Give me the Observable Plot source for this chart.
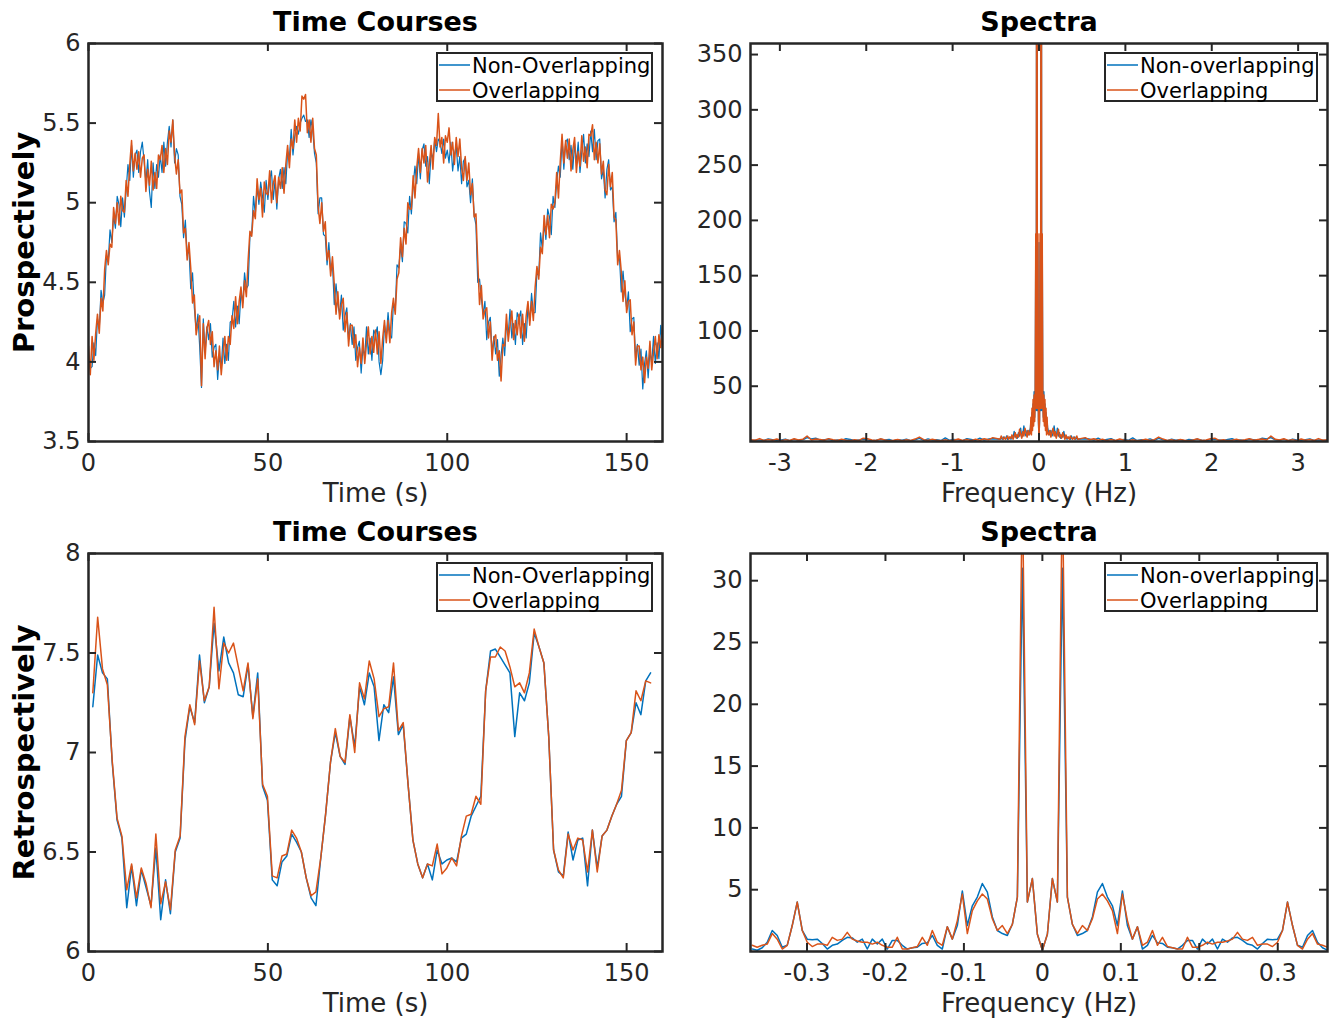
<!DOCTYPE html>
<html>
<head>
<meta charset="utf-8">
<script src="https://cdn.jsdelivr.net/npm/d3@7"></script>
<script src="https://cdn.jsdelivr.net/npm/@observablehq/plot@0.6"></script>
<style>
  html, body { margin: 0; padding: 0; background: #fff; }
  #root { position: relative; width: 1335px; height: 1021px; overflow: hidden; background: #fff; }
  .pn { position: absolute; }
</style>
</head>
<body>
<div id="root"></div>
<script>
// ---------------- DATA ----------------
// Top-left: prospective time courses, sampled every 0.5 s from 0 to 160 s
const tlDt = 0.5;
const tlOrange = [
4.10,3.92,4.16,4.01,4.18,4.30,4.18,4.40,4.32,4.58,4.70,4.61,4.74,4.72,4.97,4.87,5.00,4.86,5.04,4.95,
4.94,5.14,5.04,5.24,5.39,5.20,5.31,5.21,5.32,5.16,5.28,5.30,5.07,5.21,5.11,5.26,5.08,5.19,5.09,5.30,
5.27,5.36,5.19,5.34,5.24,5.45,5.38,5.52,5.30,5.18,5.27,5.06,5.08,4.81,4.84,4.64,4.75,4.59,4.37,4.42,
4.17,4.24,4.29,3.85,4.24,4.02,4.21,4.26,4.11,4.19,3.97,4.07,3.95,4.10,3.92,4.05,4.16,4.01,4.16,4.11,
4.29,4.21,4.41,4.24,4.38,4.47,4.34,4.51,4.41,4.64,4.82,4.79,4.95,4.90,5.15,5.02,5.09,4.91,5.13,5.06,
5.05,5.20,5.00,5.12,5.17,5.00,5.16,5.09,5.22,5.06,5.24,5.36,5.22,5.40,5.34,5.52,5.38,5.53,5.45,5.67,
5.65,5.68,5.44,5.52,5.38,5.53,5.34,5.30,4.98,4.87,5.00,4.82,4.88,4.64,4.70,4.54,4.66,4.49,4.30,4.44,
4.27,4.36,4.40,4.19,4.31,4.10,4.23,4.23,4.09,4.17,3.97,4.09,3.99,4.15,3.99,4.12,4.22,4.05,4.16,4.06,
4.20,4.05,4.19,3.99,4.15,4.26,4.12,4.26,4.12,4.31,4.40,4.30,4.52,4.56,4.78,4.66,4.84,4.74,5.00,4.96,
4.96,5.17,5.03,5.22,5.34,5.19,5.34,5.25,5.36,5.13,5.24,5.36,5.21,5.41,5.36,5.56,5.35,5.41,5.25,5.42,
5.38,5.47,5.30,5.38,5.24,5.41,5.29,5.40,5.22,5.14,5.29,5.14,5.25,5.05,5.12,4.91,4.93,4.63,4.36,4.48,
4.27,4.32,4.34,4.15,4.25,4.01,4.15,4.17,4.01,4.07,3.88,4.11,4.10,4.30,4.13,4.23,4.32,4.14,4.26,4.17,
4.30,4.15,4.30,4.13,4.29,4.38,4.23,4.38,4.26,4.47,4.60,4.52,4.72,4.68,4.92,4.80,4.92,4.78,4.99,4.96,
5.00,5.19,5.03,5.26,5.43,5.25,5.39,5.28,5.40,5.20,5.33,5.41,5.19,5.32,5.23,5.42,5.26,5.35,5.22,5.43,
5.42,5.49,5.27,5.38,5.25,5.37,5.18,5.26,5.08,5.05,5.24,5.10,5.19,4.91,4.89,4.61,4.70,4.57,4.38,4.51,
4.31,4.38,4.39,4.17,4.25,3.98,4.10,4.10,3.95,4.03,3.87,4.03,3.96,4.13,3.95,4.06,4.16,4.02,4.17,4.09,
4.22
];
const tlBlue = [
4.02,3.96,3.97,4.12,4.04,4.27,4.21,4.45,4.37,4.42,4.67,4.63,4.83,4.75,4.92,4.84,5.04,4.99,4.85,5.03,
4.91,5.08,5.24,5.14,5.36,5.16,5.30,5.33,5.19,5.32,5.38,5.26,5.13,5.27,5.07,4.97,5.25,5.09,5.24,5.16,
5.30,5.19,5.38,5.23,5.38,5.48,5.35,5.52,5.25,5.34,5.30,5.04,4.99,4.78,4.89,4.67,4.71,4.46,4.56,4.34,
4.20,4.30,4.09,3.84,4.27,4.06,4.22,4.14,4.24,4.03,4.09,4.11,3.89,4.04,3.96,4.15,3.99,4.11,4.01,4.25,
4.26,4.38,4.22,4.35,4.24,4.44,4.37,4.56,4.46,4.48,4.79,4.81,5.04,4.93,5.10,4.99,5.13,5.04,4.94,5.14,
5.02,5.14,5.20,5.02,5.14,4.96,5.15,5.21,5.09,5.22,5.12,5.32,5.28,5.46,5.30,5.42,5.48,5.43,5.50,5.53,
5.55,5.51,5.52,5.41,5.52,5.46,5.31,5.25,4.93,5.03,5.03,4.80,4.79,4.61,4.75,4.57,4.62,4.36,4.49,4.36,
4.30,4.42,4.20,4.29,4.34,4.14,4.24,4.11,4.22,4.01,4.09,4.13,3.93,4.09,4.03,4.22,4.05,4.15,4.01,4.20,
4.17,4.22,4.00,3.92,4.01,4.23,4.15,4.31,4.17,4.15,4.37,4.32,4.61,4.59,4.73,4.63,4.88,4.87,4.81,5.04,
4.93,5.11,5.23,5.12,5.31,5.15,5.33,5.37,5.23,5.29,5.12,5.32,5.27,5.40,5.32,5.40,5.38,5.31,5.40,5.28,
5.33,5.25,5.38,5.20,5.30,5.36,5.20,5.29,5.12,5.26,5.28,5.10,5.14,5.00,5.15,4.92,4.86,4.50,4.52,4.40,
4.30,4.38,4.14,4.25,4.28,4.05,4.16,4.05,4.14,3.91,4.04,4.15,4.04,4.24,4.17,4.33,4.15,4.24,4.11,4.31,
4.27,4.32,4.11,4.24,4.15,4.35,4.26,4.43,4.31,4.31,4.57,4.54,4.81,4.71,4.87,4.77,4.96,4.91,4.80,5.04,
4.97,5.13,5.23,5.16,5.40,5.21,5.38,5.40,5.27,5.36,5.21,5.37,5.25,5.38,5.19,5.32,5.43,5.25,5.37,5.29,
5.45,5.32,5.46,5.27,5.39,5.40,5.15,5.21,5.03,5.21,5.27,5.08,5.10,4.88,4.94,4.64,4.66,4.44,4.57,4.43,
4.34,4.44,4.19,4.27,4.28,4.02,4.11,3.98,4.08,3.83,3.99,4.07,3.90,4.07,3.99,4.16,3.99,4.12,4.02,4.23,
4.10
];

// Top-right: prospective spectra (outer band every 0.05 Hz, mid band every 0.0125 Hz, centre every 0.00625 Hz)
const trFreq = [
  ...d3.range(57).map(i => -3.335 + 0.05 * i),
  ...d3.range(28).map(i => -0.45 + 0.0125 * i),
  ...d3.range(33).map(i => (i - 16) * 0.00625),
  ...d3.range(28).map(i => 0.1125 + 0.0125 * i),
  ...d3.range(57).map(i => 0.535 + 0.05 * i)
];
const trOrange = [
// outer left
1.6,1.1,2.6,0.9,1.9,1.2,2.2,0.8,1.7,1.0,2.5,1.3,2.0,5.0,1.4,2.2,1.8,1.1,2.6,1.5,0.9,2.0,1.2,0.8,1.6,1.0,3.0,2.5,1.3,0.9,2.4,1.4,0.6,1.1,1.8,0.7,1.5,1.0,2.2,4.0,1.6,0.9,2.0,1.2,0.6,1.5,0.8,1.2,2.2,1.0,1.8,0.8,2.0,1.2,2.5,1.5,3.5,
// mid left
2,5,3,2,4,2,3,5,2,4,3,6,2,5,8,3,6,4,11,7,3,9,5,12,8,4,10,6,
// centre
8,22,6,30,10,38,14,42,18,44,188,30,900,30,188,20,3,20,188,30,900,30,188,44,18,42,14,38,10,30,6,22,8,
// mid right
6,10,4,8,12,5,9,3,7,11,4,6,3,8,5,2,6,3,4,2,5,3,2,4,2,3,5,2,
// outer right
3.5,1.5,2.5,1.2,2.0,0.8,1.8,1.0,2.2,1.2,0.8,1.5,0.6,1.2,2.0,0.9,1.6,4.0,2.2,1.0,1.5,0.7,1.8,1.1,0.6,1.4,2.4,0.9,1.3,2.5,3.0,1.0,1.6,0.8,1.2,2.0,0.9,1.5,2.6,1.1,1.8,2.2,1.4,5.0,2.0,1.3,2.5,1.0,1.7,0.8,2.2,1.2,1.9,0.9,2.6,1.1,1.6
];
const trBlue = [
// outer left
0.8,1.2,1.5,0.9,2.3,1.7,1.0,1.4,2.2,0.8,1.9,1.1,1.5,3.6,2.4,3.0,1.2,1.6,2.0,0.7,1.4,1.0,2.5,1.8,0.9,1.3,2.2,1.5,0.8,1.1,2.0,1.3,1.9,0.6,1.7,1.2,2.1,0.8,1.6,2.8,1.0,2.4,1.3,1.6,0.9,3.2,1.1,1.9,1.5,0.7,2.6,1.8,1.0,3.0,1.2,2.2,2.5,
// mid left
2,3,2,4,3,2,5,2,3,4,2,5,3,9,4,6,3,8,5,12,4,6,14,7,5,10,6,8,
// centre
12,18,10,26,14,34,18,45,22,40,180,28,880,28,180,18,3,18,180,28,880,28,180,40,22,45,18,34,14,26,10,18,12,
// mid right
8,6,10,5,7,14,6,4,12,5,8,3,6,4,9,3,5,2,4,3,2,5,2,3,4,2,3,2,
// outer right
2.5,2.2,1.2,3.0,1.0,1.8,2.6,0.7,1.5,1.9,1.1,3.2,0.9,1.6,1.3,2.4,1.0,2.8,1.6,0.8,2.1,1.2,1.7,0.6,1.9,1.3,2.0,1.1,0.8,1.5,2.2,1.3,0.9,1.8,2.5,1.0,1.4,0.7,2.0,1.6,1.2,3.0,2.4,3.6,1.5,1.1,1.9,0.8,2.2,1.4,1.0,1.7,2.3,0.9,1.5,1.2,0.8
];

// Bottom-left: retrospective time courses, 116 samples from 1.2 s every 1.352 s
const blT0 = 1.2, blDt = 1.352;
const blBlue = [
7.23,7.49,7.40,7.37,6.95,6.66,6.57,6.22,6.43,6.23,
6.41,6.32,6.23,6.52,6.16,6.36,6.19,6.50,6.57,7.06,
7.23,7.15,7.49,7.25,7.33,7.65,7.41,7.58,7.45,7.40,
7.29,7.28,7.44,7.18,7.40,6.83,6.76,6.36,6.33,6.45,
6.48,6.59,6.55,6.50,6.37,6.27,6.23,6.47,6.69,6.95,
7.10,6.98,6.94,7.18,7.03,7.33,7.24,7.40,7.33,7.06,
7.24,7.20,7.38,7.09,7.14,6.84,6.56,6.44,6.37,6.44,
6.36,6.51,6.44,6.46,6.47,6.45,6.57,6.59,6.68,6.73,
6.78,7.31,7.51,7.52,7.48,7.44,7.40,7.08,7.30,7.26,
7.35,7.60,7.53,7.45,7.08,6.51,6.40,6.38,6.60,6.46,
6.56,6.57,6.33,6.61,6.42,6.58,6.61,6.68,6.74,6.78,
7.06,7.10,7.25,7.19,7.36,7.40
];
const blOrange = [
7.30,7.68,7.42,7.34,6.96,6.67,6.58,6.31,6.44,6.27,
6.42,6.34,6.22,6.59,6.24,6.35,6.21,6.51,6.58,7.08,
7.24,7.14,7.46,7.26,7.33,7.73,7.32,7.55,7.50,7.55,
7.43,7.31,7.45,7.17,7.37,6.84,6.78,6.38,6.37,6.48,
6.49,6.61,6.57,6.50,6.37,6.28,6.30,6.47,6.69,6.95,
7.12,6.98,6.95,7.19,7.00,7.35,7.27,7.46,7.37,7.18,
7.22,7.23,7.45,7.11,7.15,6.84,6.56,6.44,6.37,6.44,
6.43,6.54,6.39,6.42,6.47,6.43,6.58,6.68,6.69,6.78,
6.74,7.31,7.48,7.48,7.53,7.51,7.43,7.33,7.35,7.30,
7.40,7.62,7.53,7.45,7.08,6.51,6.41,6.37,6.59,6.51,
6.57,6.56,6.40,6.61,6.40,6.58,6.61,6.68,6.74,6.81,
7.06,7.10,7.31,7.26,7.36,7.35
];

// Bottom-right: retrospective spectra, 116 bins, bin 58 = 0 Hz, df = 0.006376 Hz
const brDf = 0.006376, brZero = 58;
const brOrange = [
0.5,
0.35,0.5,0.6,1.45,1.0,0.2,0.5,
2.1,4.0,1.7,0.75,0.4,0.6,0.6,0.5,1.15,0.9,
1.0,1.55,1.0,0.85,0.75,0.75,0.6,0.75,0.5,0.35,
0.35,1.15,0.2,0.2,0.3,0.4,1.15,0.5,1.7,0.75,
0.5,2.0,1.0,2.5,4.65,1.45,3.3,4.1,4.65,4.25,
2.65,1.7,2.1,1.45,2.2,4.4,38,4.0,5.9,1.4,
0.1,
1.4,5.9,4.0,38,4.4,2.2,1.45,2.1,1.7,2.65,
4.25,4.65,4.1,3.3,1.45,4.65,2.5,1.0,2.0,0.5,
0.75,1.7,0.5,1.15,0.4,0.3,0.2,0.2,1.15,0.35,
0.35,0.5,0.75,0.6,0.75,0.75,0.85,1.0,1.55,1.0,
0.9,1.15,0.5,0.6,0.6,0.4,0.75,1.7,4.0,2.1,
0.5,0.2,1.0,1.45,0.6,0.5,0.35
];
const brBlue = [
0.2,
0.1,0.3,0.75,1.7,1.3,0.35,0.5,
2.1,4.0,1.7,1.0,0.95,1.0,0.65,0.2,0.5,0.6,
0.9,1.15,1.1,0.75,1.0,0.2,1.0,0.6,1.0,0.2,
0.9,0.9,0.5,0.2,0.3,0.35,0.65,0.7,1.3,0.5,
0.2,2.0,1.0,2.1,4.9,2.1,3.7,4.4,5.5,4.8,
2.8,1.7,1.45,1.3,2.2,4.4,31,4.0,5.9,1.4,
0.1,
1.4,5.9,4.0,31,4.4,2.2,1.3,1.45,1.7,2.8,
4.8,5.5,4.4,3.7,2.1,4.9,2.1,1.0,2.0,0.2,
0.5,1.3,0.7,0.65,0.35,0.3,0.2,0.5,0.9,0.9,
0.2,1.0,0.6,1.0,0.2,1.0,0.75,1.1,1.15,0.9,
0.6,0.5,0.2,0.65,1.0,0.95,1.0,1.7,4.0,2.1,
0.5,0.35,1.3,1.7,0.75,0.3,0.1
];

// Tick values
const timeTicks = [0, 50, 100, 150];
const tlYTicks = [3.5, 4, 4.5, 5, 5.5, 6];
const trXTicks = [-3, -2, -1, 0, 1, 2, 3];
const trYTicks = [50, 100, 150, 200, 250, 300, 350];
const blYTicks = [6, 6.5, 7, 7.5, 8];
const brXTicks = [-0.3, -0.2, -0.1, 0, 0.1, 0.2, 0.3];
const brYTicks = [5, 10, 15, 20, 25, 30];

// Texts
const titleTime = "Time Courses";
const titleSpec = "Spectra";
const labelTime = "Time (s)";
const labelFreq = "Frequency (Hz)";
const rowLabels = ["Prospectively", "Retrospectively"];
const legendTime = ["Non-Overlapping", "Overlapping"];
const legendSpec = ["Non-overlapping", "Overlapping"];

// ---------------- DRAWING ----------------
const FONT = '"DejaVu Sans", sans-serif';
const BLUE = "#0072BD", ORANGE = "#D95319", AX = "#262626";
const root = document.getElementById("root");
const fmt = d => String(d);

function makePanel(c) {
  const plotW = c.w - c.mL - c.mR, plotH = c.h - c.mT - c.mB;
  const lx = (c.xd[1] - c.xd[0]) * 8 / plotW;
  const ly = (c.yd[1] - c.yd[0]) * 8 / plotH;
  const marks = [
    Plot.line(c.blue, {x: "x", y: "y", stroke: BLUE, strokeWidth: c.lwB, clip: true}),
    Plot.line(c.orange, {x: "x", y: "y", stroke: ORANGE, strokeWidth: c.lwO, clip: true}),
    Plot.ruleX(c.xt, {y1: c.yd[0], y2: c.yd[0] + ly, stroke: AX, strokeWidth: 2}),
    Plot.ruleX(c.xt, {y1: c.yd[1] - ly, y2: c.yd[1], stroke: AX, strokeWidth: 2}),
    Plot.ruleY(c.yt, {x1: c.xd[0], x2: c.xd[0] + lx, stroke: AX, strokeWidth: 2}),
    Plot.ruleY(c.yt, {x1: c.xd[1] - lx, x2: c.xd[1], stroke: AX, strokeWidth: 2}),
    Plot.frame({stroke: AX, strokeWidth: 2.5}),
    Plot.axisX({ticks: c.xt, tickFormat: fmt, tickSize: 0, tickPadding: 12, label: null, fontSize: 24}),
    Plot.axisY({ticks: c.yt, tickFormat: fmt, tickSize: 0, tickPadding: 8, label: null, fontSize: 24}),
    Plot.text([c.title], {text: d => d, frameAnchor: "top", dy: -21, fontSize: 27, fontWeight: "bold", fill: "#000", textAnchor: "middle", lineAnchor: "middle"}),
    Plot.text([c.xlabel], {text: d => d, frameAnchor: "bottom", dy: 52, fontSize: 26, fill: AX, textAnchor: "middle", lineAnchor: "middle"})
  ];
  if (c.ylabel) {
    marks.push(Plot.text([c.ylabel], {text: d => d, frameAnchor: "left", dx: -64, rotate: -90, fontSize: 29, fontWeight: "bold", fill: "#000", textAnchor: "middle", lineAnchor: "middle"}));
  }
  const svg = Plot.plot({
    width: c.w, height: c.h,
    marginLeft: c.mL, marginRight: c.mR, marginTop: c.mT, marginBottom: c.mB,
    style: {fontFamily: FONT, fontSize: "24px", color: AX, background: "transparent", overflow: "visible"},
    x: {type: "linear", domain: c.xd},
    y: {type: "linear", domain: c.yd},
    marks
  });
  const div = document.createElement("div");
  div.className = "pn";
  div.style.left = c.left + "px";
  div.style.top = c.top + "px";
  div.appendChild(svg);
  root.appendChild(div);

  // legend box
  const lw = c.legW, lh = 50;
  const lg = d3.create("svg").attr("width", lw).attr("height", lh)
    .style("position", "absolute")
    .style("left", (c.left + c.mL + plotW - 9 - lw) + "px")
    .style("top", (c.top + c.mT + 9) + "px");
  lg.append("rect").attr("x", 1).attr("y", 1).attr("width", lw - 2).attr("height", lh - 2)
    .attr("fill", "#fff").attr("stroke", AX).attr("stroke-width", 2);
  [[BLUE, c.legend[0], 13], [ORANGE, c.legend[1], 38]].forEach(([col, txt, yy]) => {
    lg.append("line").attr("x1", 3).attr("x2", 34).attr("y1", yy).attr("y2", yy)
      .attr("stroke", col).attr("stroke-width", 1.5);
    lg.append("text").attr("x", 36).attr("y", yy).attr("dy", "0.36em")
      .attr("font-family", FONT).attr("font-size", 21).attr("fill", "#000").text(txt);
  });
  root.appendChild(lg.node());
}

const tlB = tlBlue.map((v, i) => ({x: i * tlDt, y: v}));
const tlO = tlOrange.map((v, i) => ({x: i * tlDt, y: v}));
const trB = trBlue.map((v, i) => ({x: trFreq[i], y: v}));
const trO = trOrange.map((v, i) => ({x: trFreq[i], y: v}));
const blB = blBlue.map((v, i) => ({x: blT0 + i * blDt, y: v}));
const blO = blOrange.map((v, i) => ({x: blT0 + i * blDt, y: v}));
const brB = brBlue.map((v, i) => ({x: (i - brZero) * brDf, y: v}));
const brO = brOrange.map((v, i) => ({x: (i - brZero) * brDf, y: v}));

makePanel({left: 0, top: 0, w: 668, h: 510, mL: 88, mR: 6, mT: 43, mB: 69,
  xd: [0, 160], yd: [3.5, 6], xt: timeTicks, yt: tlYTicks, blue: tlB, orange: tlO, lwB: 1.2, lwO: 1.5,
  title: titleTime, xlabel: labelTime, ylabel: rowLabels[0], legend: legendTime, legW: 217});
makePanel({left: 668, top: 0, w: 667, h: 510, mL: 82, mR: 8, mT: 43, mB: 69,
  xd: [-3.34, 3.34], yd: [0, 360], xt: trXTicks, yt: trYTicks, blue: trB, orange: trO, lwB: 1.4, lwO: 1.5,
  title: titleSpec, xlabel: labelFreq, ylabel: null, legend: legendSpec, legW: 214});
makePanel({left: 0, top: 510, w: 668, h: 511, mL: 88, mR: 6, mT: 43, mB: 70,
  xd: [0, 160], yd: [6, 8], xt: timeTicks, yt: blYTicks, blue: blB, orange: blO, lwB: 1.5, lwO: 1.5,
  title: titleTime, xlabel: labelTime, ylabel: rowLabels[1], legend: legendTime, legW: 217});
makePanel({left: 668, top: 510, w: 667, h: 511, mL: 82, mR: 8, mT: 43, mB: 70,
  xd: [-0.372, 0.3634], yd: [0, 32.2], xt: brXTicks, yt: brYTicks, blue: brB, orange: brO, lwB: 1.5, lwO: 1.5,
  title: titleSpec, xlabel: labelFreq, ylabel: null, legend: legendSpec, legW: 214});
</script>
</body>
</html>
